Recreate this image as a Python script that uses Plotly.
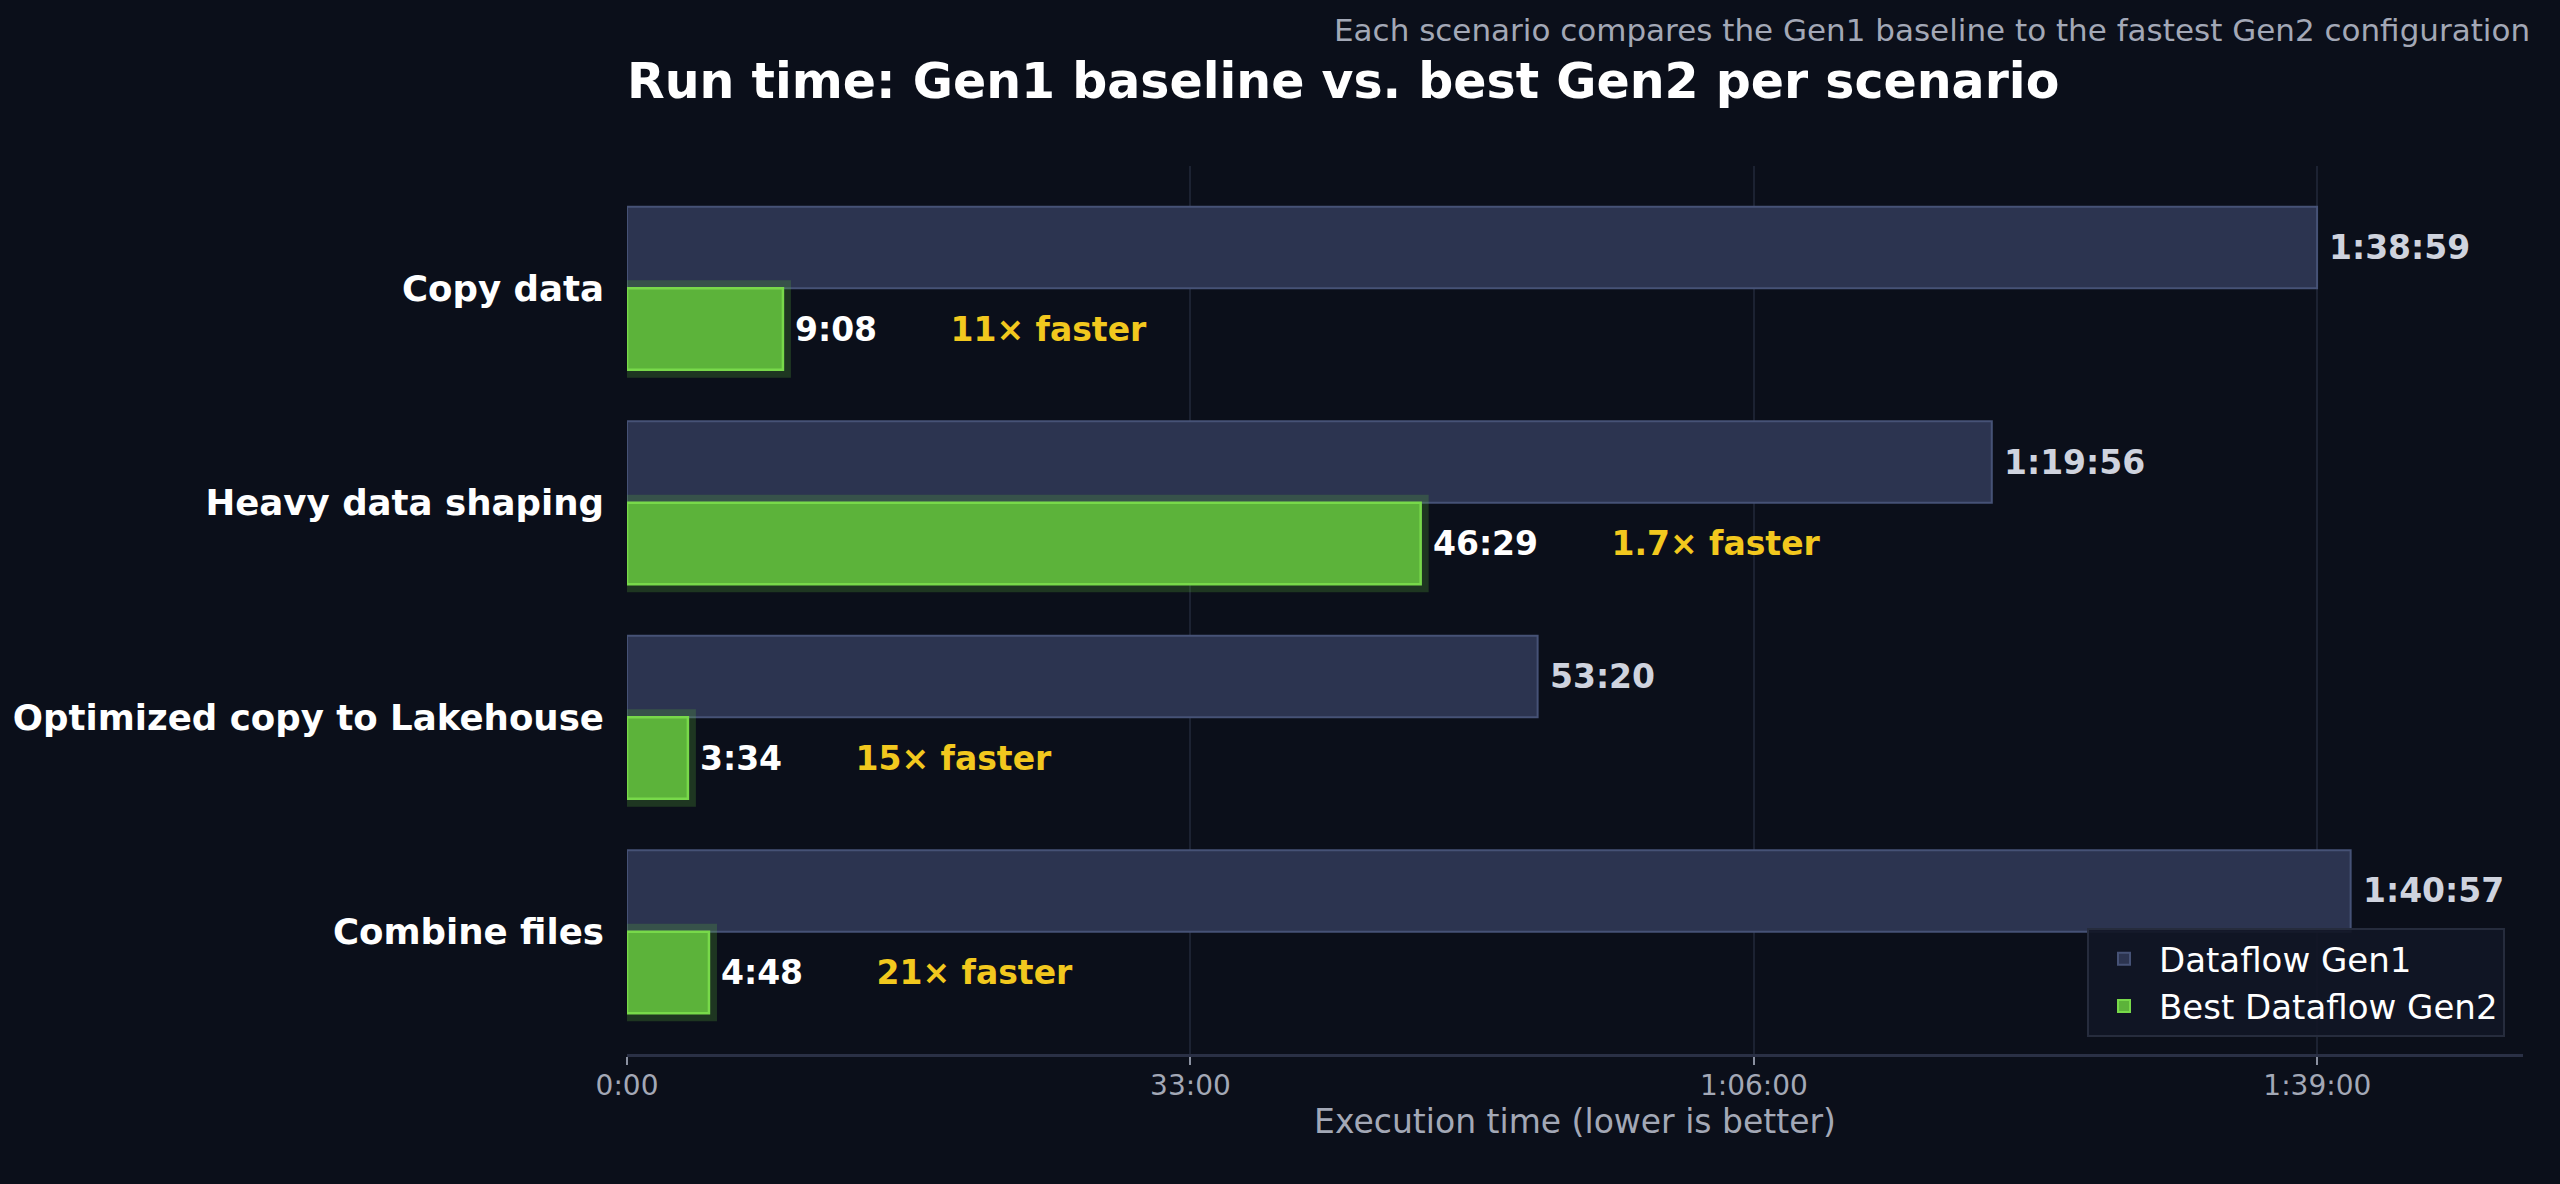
import plotly.graph_objects as go

scenarios = ["Copy data", "Heavy data shaping", "Optimized copy to Lakehouse", "Combine files"]
gen1_secs = [5939, 4796, 3200, 6057]      # 1:38:59, 1:19:56, 53:20, 1:40:57
gen2_secs = [548, 2789, 214, 288]         # 9:08, 46:29, 3:34, 4:48
speedups = ["11×", "1.7×", "15×", "21×"]
tick_secs = [0, 1980, 3960, 5940]
tick_text = ["0:00", "33:00", "1:06:00", "1:39:00"]

BG = "#0b0f1a"
FONT = "DejaVu Sans"


def fmt(s):
    h, rem = divmod(int(s), 3600)
    m, sec = divmod(rem, 60)
    if h:
        return "{}:{:02d}:{:02d}".format(h, m, sec)
    return "{}:{:02d}".format(m, sec)


# first scenario on top
ypos = list(range(len(scenarios) - 1, -1, -1))
BW = 0.38

fig = go.Figure()

fig.add_trace(go.Bar(
    y=ypos, x=gen1_secs, orientation="h", name="Dataflow Gen1",
    offset=0, width=BW,
    marker=dict(color="#2c3450", line=dict(color="#465276", width=2)),
    hoverinfo="skip"))

# soft glow behind the gen2 bars
fig.add_trace(go.Bar(
    y=ypos, x=gen2_secs, orientation="h", showlegend=False,
    offset=-BW, width=BW,
    marker=dict(color="rgba(93,179,58,0.24)", line=dict(color="rgba(93,179,58,0.24)", width=16)),
    hoverinfo="skip"))

fig.add_trace(go.Bar(
    y=ypos, x=gen2_secs, orientation="h", name="Best Dataflow Gen2",
    offset=-BW, width=BW,
    marker=dict(color="#5cb33a", line=dict(color="#78d94a", width=2.5)),
    hoverinfo="skip"))

for y, g1, g2, sp in zip(ypos, gen1_secs, gen2_secs, speedups):
    fig.add_annotation(x=g1, y=y + BW / 2, xanchor="left", yanchor="middle",
                       xshift=10, showarrow=False,
                       text="<b>" + fmt(g1) + "</b>",
                       font=dict(family=FONT, size=33, color="#cfd3de"))
    fig.add_annotation(x=g2, y=y - BW / 2, xanchor="left", yanchor="middle",
                       xshift=10, showarrow=False,
                       text="<b>" + fmt(g2) + "</b>" + "&nbsp;" * 7 +
                            "<b><span style='color:#f2c81e'>" + sp + " faster</span></b>",
                       font=dict(family=FONT, size=33, color="#ffffff"))

fig.add_annotation(xref="paper", yref="paper", x=1.005, y=1.153,
                   xanchor="right", yanchor="middle", showarrow=False,
                   text="Each scenario compares the Gen1 baseline to the fastest Gen2 configuration",
                   font=dict(family=FONT, size=31, color="#a3a8b6"))

fig.update_layout(
    width=2560, height=1184,
    paper_bgcolor=BG, plot_bgcolor=BG,
    barmode="overlay",
    margin=dict(l=627, r=37, t=166, b=130, autoexpand=False),
    font=dict(family=FONT, color="#ffffff"),
    title=dict(text="<b>Run time: Gen1 baseline vs. best Gen2 per scenario</b>",
               x=627 / 2560, xanchor="left", y=1 - 81 / 1184, yanchor="middle",
               font=dict(family=FONT, size=49, color="#ffffff")),
    legend=dict(x=0.9905, y=0.019, xanchor="right", yanchor="bottom",
                bgcolor="rgba(17,22,37,0.92)", bordercolor="#262c3d", borderwidth=2,
                font=dict(family=FONT, size=34, color="#ffffff"),
                itemsizing="constant", itemwidth=60),
    xaxis=dict(range=[0, max(gen1_secs) * 1.1], automargin=False,
               tickvals=tick_secs, ticktext=tick_text,
               showgrid=True, gridcolor="#1c2232", gridwidth=2, zeroline=False,
               showline=True, linecolor="#2a3045", linewidth=3,
               ticks="outside", ticklen=8, tickwidth=2, tickcolor="#8a90a0",
               ticklabelstandoff=-4,
               tickfont=dict(family=FONT, size=28, color="#a3a8b6"),
               title=dict(text="Execution time (lower is better)", standoff=6,
                          font=dict(family=FONT, size=33, color="#a3a8b6"))),
    yaxis=dict(range=[-0.57, 3.57], tickvals=ypos, automargin=False,
               ticktext=["<b>" + s + "</b>" for s in scenarios],
               showgrid=False, zeroline=False, showline=False, ticks="",
               ticklabelstandoff=22,
               tickfont=dict(family=FONT, size=35.6, color="#ffffff"),
               title=None),
)

fig.write_html("out.html", config={"displayModeBar": False},
               post_script="document.body.style.margin='0';"
                           "document.body.style.background='#0b0f1a';"
                           "document.body.style.overflow='hidden';")
